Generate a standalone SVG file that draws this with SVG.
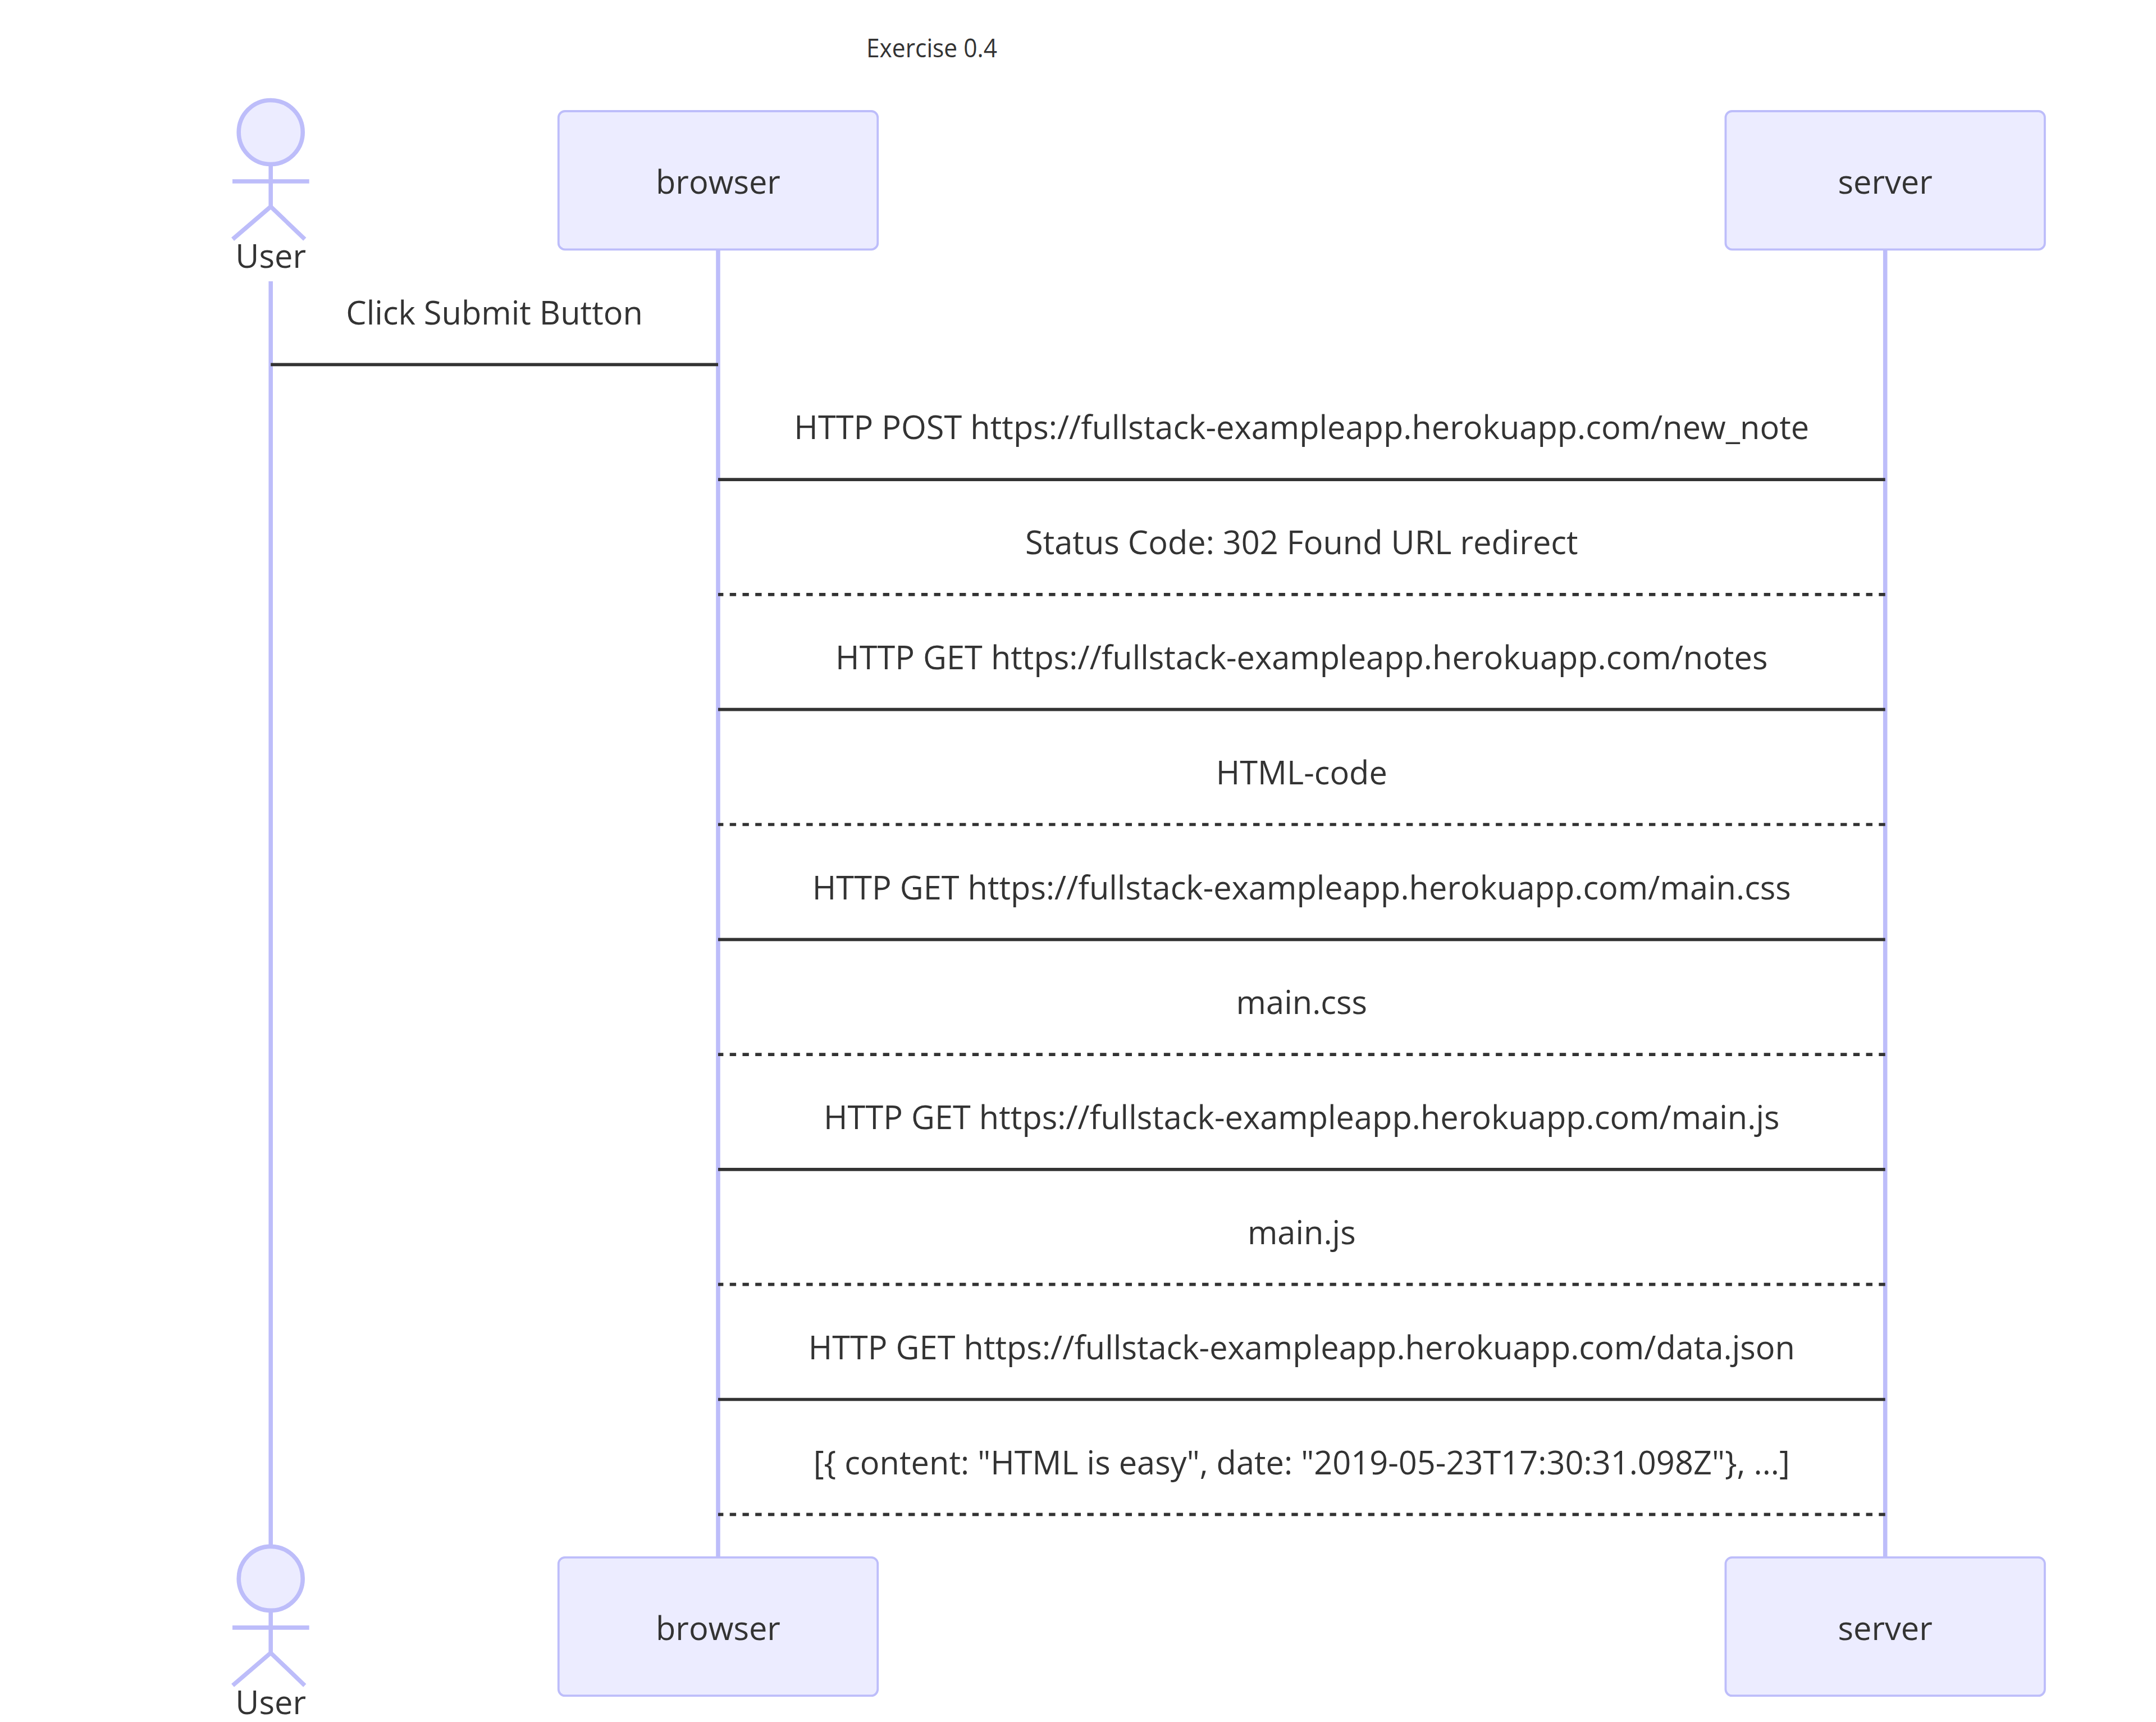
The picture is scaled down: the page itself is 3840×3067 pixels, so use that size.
<svg xmlns="http://www.w3.org/2000/svg" width="3840" height="3067" viewBox="0 0 3840 3067">
<style>
text{font-family:"Open Sans","Noto Sans",sans-serif;font-size:59.3px;fill:#333;text-anchor:middle;transform-box:fill-box;transform-origin:center;transform:scaleX(.974)}
text.title{font-size:45px;transform:scaleX(.945)}
.box{fill:#ECECFF;stroke:#BDBDFA;stroke-width:3.8}
.life{stroke:#BDBDFA;stroke-width:7.58;fill:none}
.head{fill:#ECECFF;stroke:#BDBDFA;stroke-width:7.58}
.msg{stroke:#333;stroke-width:5.7;fill:none}
.dash{stroke-dasharray:11.37 11.37}
</style>
<rect width="3840" height="3067" fill="#fff"/>
<text class="title" x="1659.5" y="102">Exercise 0.4</text>
<g id="lifelines">
<line class="life" x1="482.2" y1="501" x2="482.2" y2="2757"/>
<line class="life" x1="1279" y1="444" x2="1279" y2="2774"/>
<line class="life" x1="3357.7" y1="444" x2="3357.7" y2="2774"/>
</g>
<g id="actor-user-top">
<circle class="head" cx="482.2" cy="235.5" r="57"/>
<path class="life" d="M482.2 296V368M414 323H550.7M482.2 368L414.5 426M482.2 368L542.8 426"/>
<text x="482.2" y="477.3">User</text>
</g>
<g id="actor-browser-top">
<rect class="box" x="994.75" y="198" width="568.5" height="246.3" rx="11.4"/>
<text x="1279" y="345">browser</text>
</g>
<g id="actor-server-top">
<rect class="box" x="3073.45" y="198" width="568.5" height="246.3" rx="11.4"/>
<text x="3357.7" y="345">server</text>
</g>
<g id="actor-user-bottom">
<circle class="head" cx="482.2" cy="2811.4" r="57"/>
<path class="life" d="M482.2 2871.9V2943.9M414 2898.9H550.7M482.2 2943.9L414.5 3001.9M482.2 2943.9L542.8 3001.9"/>
<text x="482.2" y="3053.2">User</text>
</g>
<g id="actor-browser-bottom">
<rect class="box" x="994.75" y="2773.9" width="568.5" height="246.3" rx="11.4"/>
<text x="1279" y="2920.7">browser</text>
</g>
<g id="actor-server-bottom">
<rect class="box" x="3073.45" y="2773.9" width="568.5" height="246.3" rx="11.4"/>
<text x="3357.7" y="2920.7">server</text>
</g>
<g id="connectors">
<line class="msg" x1="482.2" y1="649.3" x2="1279" y2="649.3"/>
<line class="msg" x1="1279" y1="854.1" x2="3357.7" y2="854.1"/>
<line class="msg dash" x1="3357.7" y1="1058.9" x2="1279" y2="1058.9"/>
<line class="msg" x1="1279" y1="1263.7" x2="3357.7" y2="1263.7"/>
<line class="msg dash" x1="3357.7" y1="1468.5" x2="1279" y2="1468.5"/>
<line class="msg" x1="1279" y1="1673.3" x2="3357.7" y2="1673.3"/>
<line class="msg dash" x1="3357.7" y1="1878.1" x2="1279" y2="1878.1"/>
<line class="msg" x1="1279" y1="2082.9" x2="3357.7" y2="2082.9"/>
<line class="msg dash" x1="3357.7" y1="2287.7" x2="1279" y2="2287.7"/>
<line class="msg" x1="1279" y1="2492.5" x2="3357.7" y2="2492.5"/>
<line class="msg dash" x1="3357.7" y1="2697.3" x2="1279" y2="2697.3"/>
</g>
<g id="labels">
<text x="880.6" y="577.6">Click Submit Button</text>
<text x="2318.3" y="782.4">HTTP POST https://fullstack-exampleapp.herokuapp.com/new_note</text>
<text x="2318.3" y="987.2">Status Code: 302 Found URL redirect</text>
<text x="2318.3" y="1192">HTTP GET https://fullstack-exampleapp.herokuapp.com/notes</text>
<text x="2318.3" y="1396.8">HTML-code</text>
<text x="2318.3" y="1601.6">HTTP GET https://fullstack-exampleapp.herokuapp.com/main.css</text>
<text x="2318.3" y="1806.4">main.css</text>
<text x="2318.3" y="2011.2">HTTP GET https://fullstack-exampleapp.herokuapp.com/main.js</text>
<text x="2318.3" y="2216">main.js</text>
<text x="2318.3" y="2420.8">HTTP GET https://fullstack-exampleapp.herokuapp.com/data.json</text>
<text x="2318.3" y="2625.6">[{ content: "HTML is easy", date: "2019-05-23T17:30:31.098Z"}, ...]</text>
</g>
</svg>
